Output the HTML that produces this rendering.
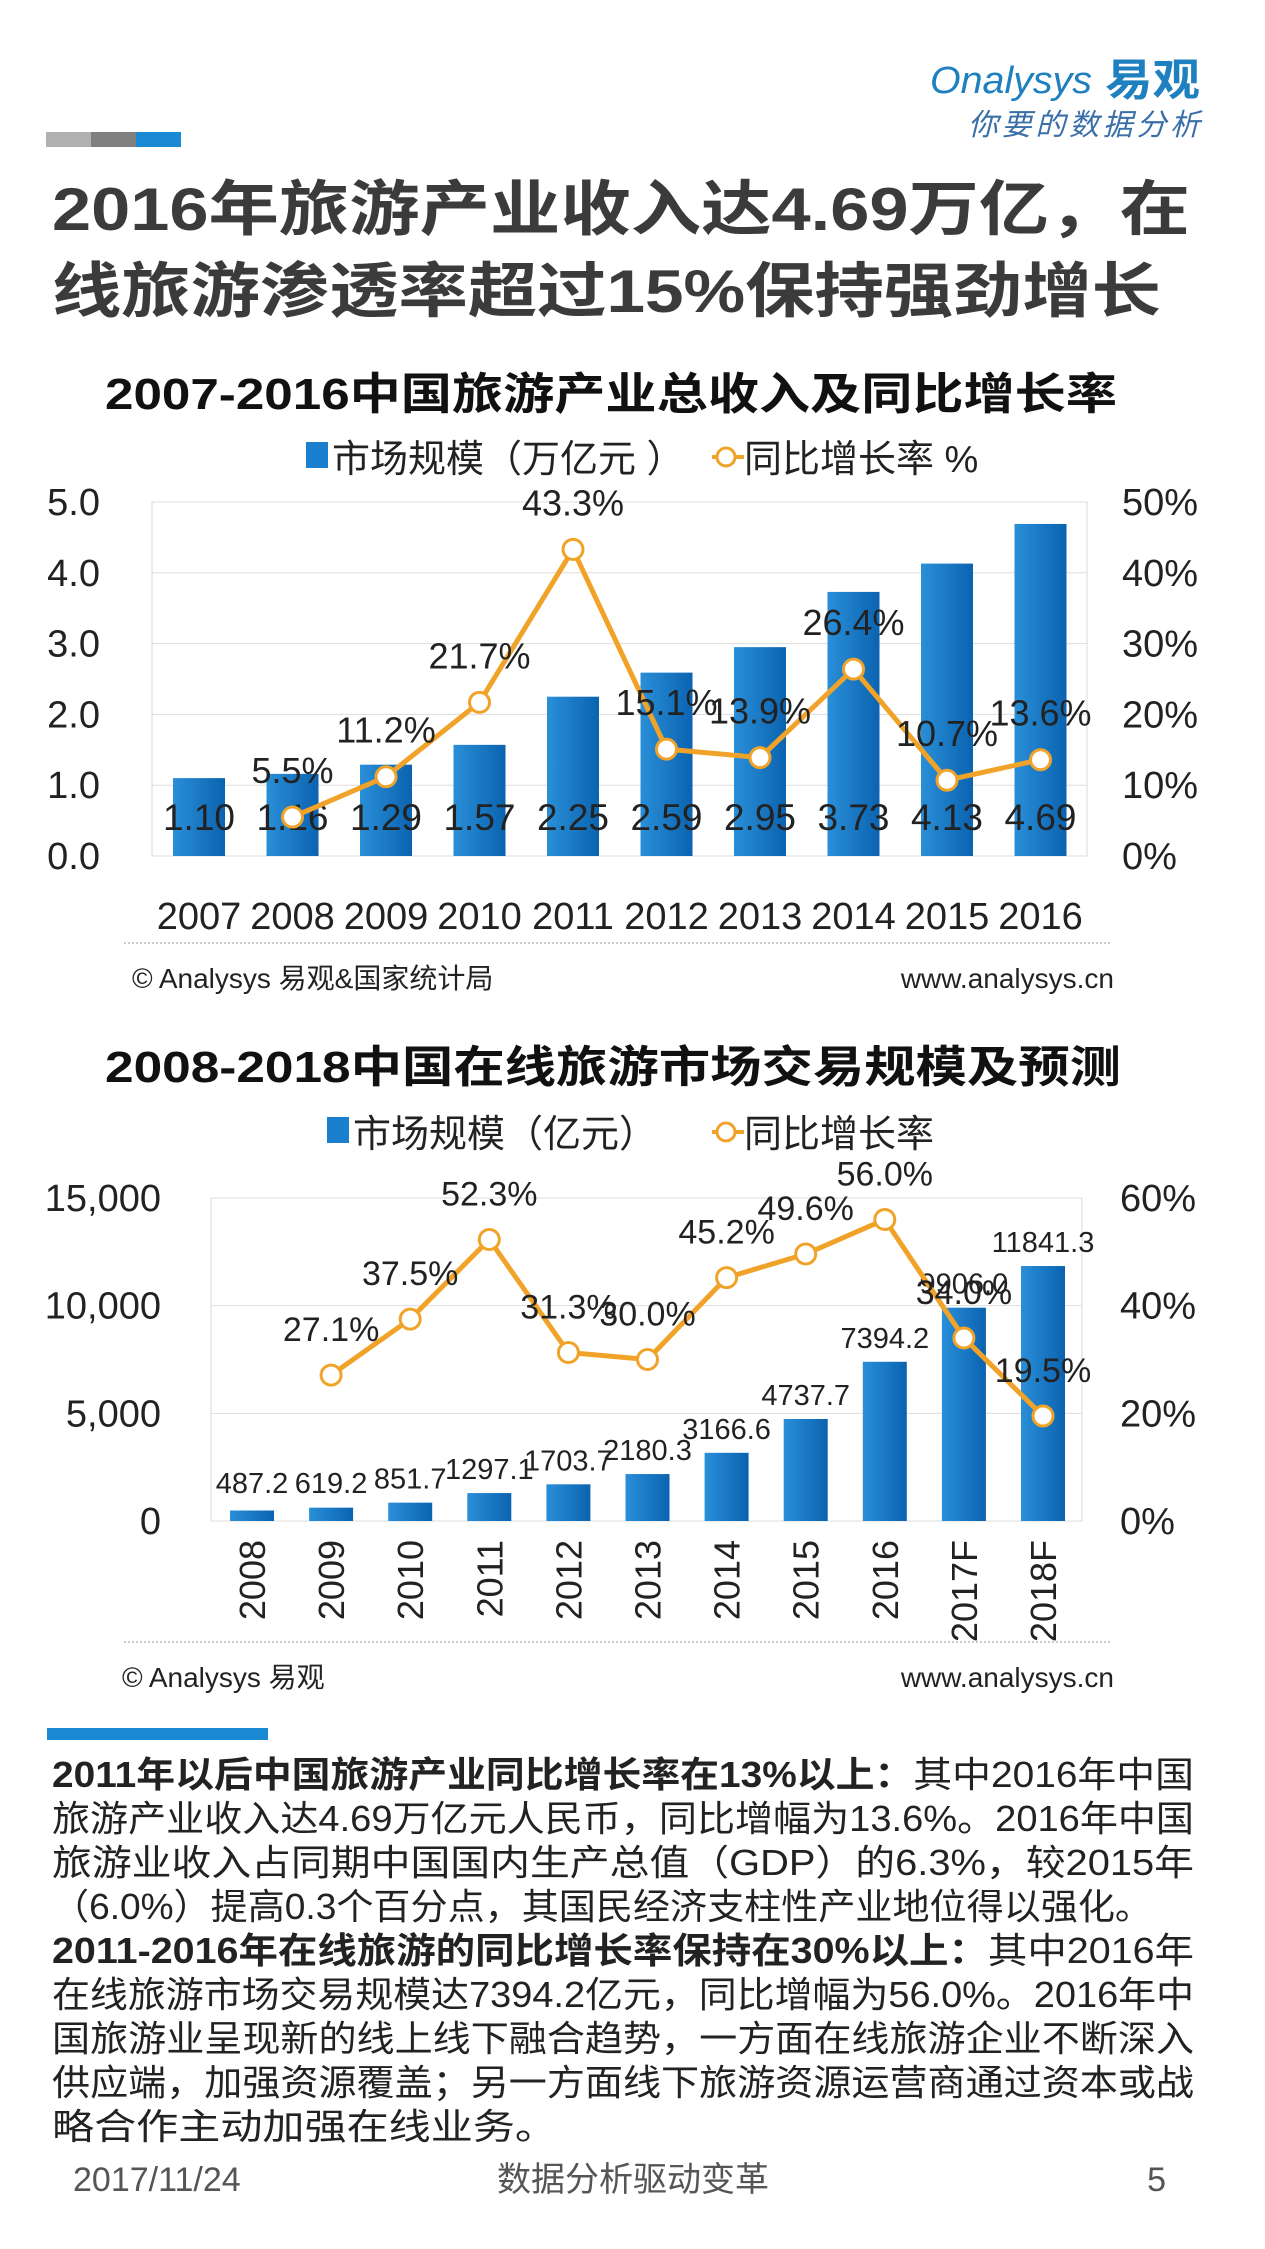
<!DOCTYPE html>
<html><head><meta charset="utf-8"><style>
body{margin:0;background:#fff;}
#page{position:relative;width:1265px;height:2249px;overflow:hidden;font-family:"Liberation Sans","Noto Sans CJK SC",sans-serif;}
svg{position:absolute;left:0;top:0;font-family:"Liberation Sans","Noto Sans CJK SC",sans-serif;}
</style></head><body>
<div id="page">
<svg id="svg" width="1265" height="2249">
<defs><linearGradient id="bg" x1="0" x2="1" y1="0" y2="0"><stop offset="0" stop-color="#2a8fd8"/><stop offset="1" stop-color="#0b63b0"/></linearGradient></defs>
<g>
<text x="930" y="93" font-size="38" fill="#1f80c0" font-style="italic" textLength="162" lengthAdjust="spacingAndGlyphs">Onalysys</text>
<text x="1105" y="95" font-size="44" font-weight="bold" fill="#1f80c0" textLength="95" lengthAdjust="spacingAndGlyphs">易观</text>
<text x="968" y="135" font-size="30" fill="#3a6fa8" font-style="italic" textLength="232" lengthAdjust="spacing">你要的数据分析</text>
</g>
<rect x="46" y="132" width="45" height="15" fill="#b0b0b0"/>
<rect x="91" y="132" width="45" height="15" fill="#808080"/>
<rect x="136" y="132" width="45" height="15" fill="#1a8ad4"/>
<text x="52" y="230" font-size="60" font-weight="bold" fill="#3b3b3b" textLength="1138" lengthAdjust="spacingAndGlyphs">2016年旅游产业收入达4.69万亿，在</text>
<text x="52" y="312" font-size="60" font-weight="bold" fill="#3b3b3b" textLength="1109" lengthAdjust="spacingAndGlyphs">线旅游渗透率超过15%保持强劲增长</text>
<text x="105" y="409" font-size="44" font-weight="bold" fill="#111" textLength="1012" lengthAdjust="spacingAndGlyphs">2007-2016中国旅游产业总收入及同比增长率</text>
<text x="105" y="1082" font-size="44" font-weight="bold" fill="#111" textLength="1016" lengthAdjust="spacingAndGlyphs">2008-2018中国在线旅游市场交易规模及预测</text>
<g id="c1"></g><g id="c2"></g>
<line x1="124" x2="1112" y1="943" y2="943" stroke="#999" stroke-dasharray="2,2"/>
<text x="132" y="988" font-size="28" fill="#222">© Analysys 易观&amp;国家统计局</text>
<text x="1114" y="988" font-size="28" fill="#222" text-anchor="end">www.analysys.cn</text>
<line x1="124" x2="1112" y1="1642" y2="1642" stroke="#999" stroke-dasharray="2,2"/>
<text x="122" y="1687" font-size="28" fill="#222">© Analysys 易观</text>
<text x="1114" y="1687" font-size="28" fill="#222" text-anchor="end">www.analysys.cn</text>
<rect x="47" y="1728" width="221" height="12" fill="#1a8ad4"/>
<g font-size="36" fill="#222">
<text x="52" y="1787" textLength="1142" lengthAdjust="spacingAndGlyphs"><tspan font-weight="bold">2011年以后中国旅游产业同比增长率在13%以上：</tspan>其中2016年中国</text>
<text x="52" y="1831" textLength="1142" lengthAdjust="spacingAndGlyphs">旅游产业收入达4.69万亿元人民币，同比增幅为13.6%。2016年中国</text>
<text x="52" y="1875" textLength="1142" lengthAdjust="spacingAndGlyphs">旅游业收入占同期中国国内生产总值（GDP）的6.3%，较2015年</text>
<text x="52" y="1919" textLength="1100" lengthAdjust="spacingAndGlyphs">（6.0%）提高0.3个百分点，其国民经济支柱性产业地位得以强化。</text>
<text x="52" y="1963" textLength="1142" lengthAdjust="spacingAndGlyphs"><tspan font-weight="bold">2011-2016年在线旅游的同比增长率保持在30%以上：</tspan>其中2016年</text>
<text x="52" y="2007" textLength="1142" lengthAdjust="spacingAndGlyphs">在线旅游市场交易规模达7394.2亿元，同比增幅为56.0%。2016年中</text>
<text x="52" y="2051" textLength="1142" lengthAdjust="spacingAndGlyphs">国旅游业呈现新的线上线下融合趋势，一方面在线旅游企业不断深入</text>
<text x="52" y="2095" textLength="1142" lengthAdjust="spacingAndGlyphs">供应端，加强资源覆盖；另一方面线下旅游资源运营商通过资本或战</text>
<text x="52" y="2139" textLength="505" lengthAdjust="spacingAndGlyphs">略合作主动加强在线业务。</text>
</g>
<text x="73" y="2191" font-size="34" fill="#555">2017/11/24</text>
<text x="633" y="2191" font-size="34" fill="#555" text-anchor="middle">数据分析驱动变革</text>
<text x="1166" y="2191" font-size="34" fill="#555" text-anchor="end">5</text>
</svg>
</div>
<script>
const c1Years=["2007","2008","2009","2010","2011","2012","2013","2014","2015","2016"];
const c1Revenue=[1.10,1.16,1.29,1.57,2.25,2.59,2.95,3.73,4.13,4.69];
const c1Growth=[null,5.5,11.2,21.7,43.3,15.1,13.9,26.4,10.7,13.6];
const c1LeftTicks=["0.0","1.0","2.0","3.0","4.0","5.0"];
const c1RightTicks=["0%","10%","20%","30%","40%","50%"];
const c2Years=["2008","2009","2010","2011","2012","2013","2014","2015","2016","2017F","2018F"];
const c2Scale=[487.2,619.2,851.7,1297.1,1703.7,2180.3,3166.6,4737.7,7394.2,9906.0,11841.3];
const c2Growth=[null,27.1,37.5,52.3,31.3,30.0,45.2,49.6,56.0,34.0,19.5];
const c2LeftTicks=["0","5,000","10,000","15,000"];
const c2RightTicks=["0%","20%","40%","60%"];
const NS="http://www.w3.org/2000/svg";
function mk(p,tag,a,txt){const e=document.createElementNS(NS,tag);for(const k in a)e.setAttribute(k,a[k]);if(txt!=null)e.textContent=txt;p.appendChild(e);return e;}

function chart(g,o){
 const yL=v=>o.bottom-(v/o.lmax)*(o.bottom-o.top);
 const yR=v=>o.bottom-(v/o.rmax)*(o.bottom-o.top);
 const xC=i=>o.x0+o.step*i;
 let r=mk(g,'rect',{x:o.left,y:o.top,width:o.right-o.left,height:o.bottom-o.top,fill:'none',stroke:'#d8d8d8'});
 
 
 o.lt.forEach((t,i)=>{const v=i*o.lmax/(o.lt.length-1);const y=yL(v);
  let l=mk(g,'line',{x1:o.left,x2:o.right,y1:y,y2:y,stroke:'#ddd'});
  
  
  let t1=mk(g,'text',{x:o.lx,y:y+13,'font-size':o.tfs,fill:'#222','text-anchor':'end'},t);
  
  });
 o.rt.forEach((t,i)=>{const v=i*o.rmax/(o.rt.length-1);
  let t2=mk(g,'text',{x:o.rx,y:yR(v)+13,'font-size':o.tfs,fill:'#222'},t);
  
  });
 o.vals.forEach((v,i)=>{
  let b=mk(g,'rect',{x:xC(i)-o.bw/2,y:yL(v),width:o.bw,height:o.bottom-yL(v),fill:'url(#bg)'});
  
  
  const ly=o.barLabelBottom?o.bottom-26:Math.min(yL(v)-14,o.bottom-28);
  let bl=mk(g,'text',{x:xC(i),y:ly,'font-size':o.blfs,fill:'#222','text-anchor':'middle'},o.fmt(v));
  
  
  let xt;
  if(o.rot){xt=mk(g,'text',{x:0,y:0,'font-size':36,fill:'#222','text-anchor':'end',transform:`translate(${xC(i)+13},${o.bottom+19}) rotate(-90)`},o.cats[i]);}
  else{xt=mk(g,'text',{x:xC(i),y:o.yearY,'font-size':38,fill:'#222','text-anchor':'middle'},o.cats[i]);}
  
  
 });
 let pts=[];o.gr.forEach((v,i)=>{if(v!=null)pts.push([xC(i),yR(v)]);});
 let pl=mk(g,'polyline',{points:pts.map(p=>p.join(',')).join(' '),fill:'none',stroke:'#f0a328','stroke-width':5});
 
 
 o.gr.forEach((v,i)=>{if(v==null)return;
  let c=mk(g,'circle',{cx:xC(i),cy:yR(v),r:10,fill:'#fff',stroke:'#f0a328','stroke-width':3});
  
  
  let t=mk(g,'text',{x:xC(i),y:yR(v)-34,'font-size':o.pfs,fill:'#222','text-anchor':'middle'},v.toFixed(1)+'%');
  
  });
 const lg=mk(g,'g',{});
 
 
 mk(lg,'rect',{x:o.legX,y:o.legY-30,width:22,height:26,fill:'#1a7fcf'});
 mk(lg,'text',{x:o.legX+26,y:o.legY,'font-size':38,fill:'#222'},o.leg1);
 mk(lg,'line',{x1:o.legX2-10,x2:o.legX2+22,y1:o.legY-15,y2:o.legY-15,stroke:'#f0a328','stroke-width':4});
 mk(lg,'circle',{cx:o.legX2+4,cy:o.legY-15,r:9,fill:'#fff',stroke:'#f0a328','stroke-width':3});
 mk(lg,'text',{x:o.legX2+22,y:o.legY,'font-size':38,fill:'#222'},o.leg2);
}
chart(document.getElementById('c1'),{cats:c1Years,vals:c1Revenue,gr:c1Growth,lt:c1LeftTicks,rt:c1RightTicks,lmax:5,rmax:50,
 left:152,right:1087,top:502,bottom:856,x0:199,step:93.5,bw:52,lx:100,rx:1122,tfs:38,pfs:36,blfs:37,barLabelBottom:true,fmt:v=>v.toFixed(2),rot:false,yearY:929,
 legX:306,legX2:722,legY:472,leg1:'市场规模（万亿元 ）',leg2:'同比增长率 %'});
chart(document.getElementById('c2'),{cats:c2Years,vals:c2Scale,gr:c2Growth,lt:c2LeftTicks,rt:c2RightTicks,lmax:15000,rmax:60,
 left:211,right:1082,top:1198,bottom:1521,x0:252,step:79.1,bw:44,lx:161,rx:1120,tfs:38,pfs:34,blfs:29,barLabelBottom:false,fmt:v=>v.toFixed(1),rot:true,
 legX:327,legX2:722,legY:1147,leg1:'市场规模（亿元）',leg2:'同比增长率'});
</script>
</body></html>
